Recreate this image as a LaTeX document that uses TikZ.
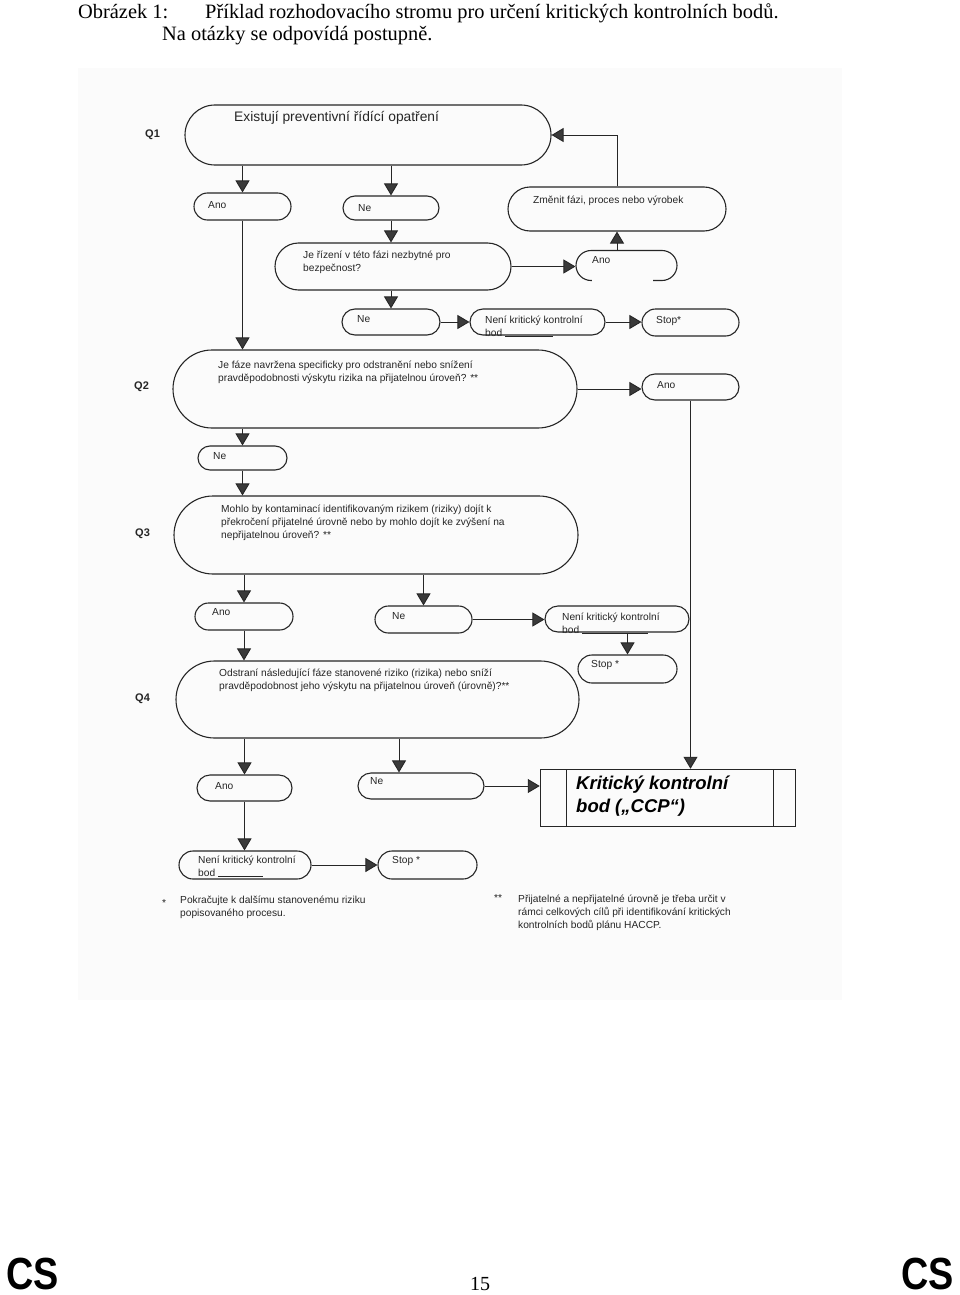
\documentclass[tikz,border=0pt]{standalone}
\usepackage{fontspec}
\setmainfont{Liberation Serif}
\setsansfont{Liberation Sans}
\newfontfamily\csfont[FakeStretch=0.84]{Liberation Sans Bold}
\usetikzlibrary{shapes.misc,arrows.meta}
\definecolor{ink}{HTML}{262626}
\definecolor{arrowc}{HTML}{3A3A3A}
\definecolor{scan}{HTML}{FBFBFB}
\newcommand{\fnt}{\sffamily\fontsize{10.2}{13}\selectfont}
\newcommand{\bodline}[1]{bod \rule[-0.3pt]{#1}{0.8pt}}
\tikzset{
  box/.style={rounded rectangle, draw=ink, line width=1.1pt, inner sep=0pt},
  txt/.style={anchor=north west, inner sep=0pt, align=left, font=\fnt, text=ink},
  lbl/.style={anchor=base west, inner sep=0pt, font=\fnt, text=ink},
  qlbl/.style={anchor=base west, inner sep=0pt, font=\sffamily\bfseries\fontsize{11}{13}\selectfont, text=ink},
  arr/.style={draw=ink, line width=0.9pt, -{Triangle[length=12pt,width=14pt,fill=arrowc]}},
}
\begin{document}
\begin{tikzpicture}[x=1pt,y=-1pt]
\useasboundingbox (0,0) rectangle (960,1295);
\fill[scan] (78,68) rectangle (842,1000);
% caption
\node[anchor=base west, inner sep=0pt, font=\fontsize{20.4}{22}\selectfont] (cap1) at (78,19) {Obrázek 1:};
\node[anchor=base west, inner sep=0pt, font=\fontsize{20.4}{22}\selectfont] (cap2) at (205,19) {Příklad rozhodovacího stromu pro určení kritických kontrolních bodů.};
\node[anchor=base west, inner sep=0pt, font=\fontsize{20.4}{22}\selectfont] (cap3) at (162,41) {Na otázky se odpovídá postupně.};
% footer
\node[anchor=base west, inner sep=0pt, font=\csfont\fontsize{45}{50}\selectfont] (csl) at (6,1289) {CS};
\node[anchor=base east, inner sep=0pt, font=\csfont\fontsize{45}{50}\selectfont] (csr) at (954,1289) {CS};
\node[anchor=base, inner sep=0pt, font=\fontsize{20}{22}\selectfont] (page) at (480,1290) {15};
% Q labels
\node[qlbl] (lq1) at (145,138) {Q1};
\node[qlbl] (lq2) at (134,389) {Q2};
\node[qlbl] (lq3) at (135,536) {Q3};
\node[qlbl] (lq4) at (135,701) {Q4};
% boxes
\node[box, minimum width=366pt, minimum height=60pt] (q1) at (368,135) {};
\node[box, minimum width=97pt, minimum height=27pt] (ano1) at (242.5,206.5) {};
\node[box, minimum width=96pt, minimum height=24pt] (ne1) at (391,208) {};
\node[box, minimum width=218pt, minimum height=44pt] (zm) at (617,209) {};
\node[box, minimum width=236pt, minimum height=47pt] (je) at (393,266.5) {};
\node[box, minimum width=101pt, minimum height=30pt] (ano2) at (626.5,265.5) {};
\draw[scan, line width=3pt] (592,280.5) -- (653,280.5);
\node[box, minimum width=98pt, minimum height=26pt] (ne2) at (391,322) {};
\node[box, minimum width=135pt, minimum height=26pt] (neni1) at (537.5,322) {};
\node[box, minimum width=97pt, minimum height=27pt] (stop1) at (690.5,322.5) {};
\node[box, minimum width=404pt, minimum height=78pt] (q2) at (375,389) {};
\node[box, minimum width=97pt, minimum height=26pt] (ano3) at (690.5,387) {};
\node[box, minimum width=89pt, minimum height=24pt] (ne4) at (242.5,458) {};
\node[box, minimum width=404pt, minimum height=78pt] (q3) at (376,535) {};
\node[box, minimum width=98pt, minimum height=27pt] (ano5) at (244,616.5) {};
\node[box, minimum width=97pt, minimum height=27pt] (ne5) at (423.5,619.5) {};
\node[box, minimum width=144pt, minimum height=26pt] (neni2) at (617,619) {};
\node[box, minimum width=99pt, minimum height=28pt] (stop2) at (627.5,669) {};
\node[box, minimum width=403pt, minimum height=77pt] (q4) at (377.5,699.5) {};
\node[box, minimum width=95pt, minimum height=26pt] (ano6) at (244.5,788) {};
\node[box, minimum width=126pt, minimum height=26pt] (ne6) at (421,786) {};
\node[draw=ink, line width=1.5pt, rectangle, minimum width=255pt, minimum height=57pt, inner sep=0pt] (ccp) at (668,798) {};
\draw[ink, line width=1pt] (566,769.5) -- (566,826.5) (773,769.5) -- (773,826.5);
\node[box, minimum width=132pt, minimum height=28pt] (neni3) at (245,865) {};
\node[box, minimum width=99pt, minimum height=28pt] (stop3) at (427.5,865) {};
% texts
\node[anchor=base west, inner sep=0pt, font=\sffamily\fontsize{13.8}{15}\selectfont, text=ink] (tq1) at (234,122) {Existují preventivní řídící opatření};
\node[lbl] (tano1) at (208,208.7) {Ano};
\node[lbl] (tne1) at (358,211.7) {Ne};
\node[lbl] (tzm) at (533,203.7) {Změnit fázi, proces nebo výrobek};
\node[txt] (tje) at (303,249.6) {\strut Je řízení v této fázi nezbytné pro\\bezpečnost?};
\node[lbl] (tano2) at (592,263.7) {Ano};
\node[lbl] (tne2) at (357,322.7) {Ne};
\node[txt] (tneni1) at (485,314.6) {\strut Není kritický kontrolní\\\bodline{48pt}};
\node[lbl] (tstop1) at (656,323.7) {Stop*};
\node[txt] (tq2) at (218,359.6) {\strut Je fáze navržena specificky pro odstranění nebo snížení\\pravděpodobnosti výskytu rizika na přijatelnou úroveň? **};
\node[lbl] (tano3) at (657,388.7) {Ano};
\node[lbl] (tne4) at (213,459.7) {Ne};
\node[txt] (tq3) at (221,503.6) {\strut Mohlo by kontaminací identifikovaným rizikem (riziky) dojít k\\překročení přijatelné úrovně nebo by mohlo dojít ke zvýšení na\\nepřijatelnou úroveň? **};
\node[lbl] (tano5) at (212,615.7) {Ano};
\node[lbl] (tne5) at (392,619.7) {Ne};
\node[txt] (tneni2) at (562,611.6) {\strut Není kritický kontrolní\\\bodline{66pt}};
\node[lbl] (tstop2) at (591,667.7) {Stop *};
\node[txt] (tq4) at (219,667.6) {\strut Odstraní následující fáze stanovené riziko (rizika) nebo sníží\\pravděpodobnost jeho výskytu na přijatelnou úroveň (úrovně)?**};
\node[lbl] (tano6) at (215,789.7) {Ano};
\node[lbl] (tne6) at (370,784.7) {Ne};
\node[anchor=north west, inner sep=0pt, align=left, font=\sffamily\bfseries\itshape\fontsize{18.5}{23}\selectfont, text=black] (tccp) at (576,773) {\strut Kritický kontrolní\\bod („CCP“)};
\node[txt] (tneni3) at (198,854.6) {\strut Není kritický kontrolní\\\bodline{45pt}};
\node[lbl] (tstop3) at (392,863.7) {Stop *};
\node[lbl] (star1) at (162,906) {*};
\node[txt] (fn1) at (180,894.6) {\strut Pokračujte k dalšímu stanovenému riziku\\popisovaného procesu.};
\node[lbl] (star2) at (494,901) {**};
\node[txt] (fn2) at (518,893.6) {\strut Přijatelné a nepřijatelné úrovně je třeba určit v\\rámci celkových cílů při identifikování kritických\\kontrolních bodů plánu HACCP.};
% connectors
\draw[arr] (ano1.north |- q1.south) -- (ano1.north);
\draw[arr] (ne1.north |- q1.south) -- (ne1.north);
\draw[arr] (ne1.south) -- (ne1.south |- je.north);
\draw[arr] (je.east) -- (je.east -| ano2.west);
\draw[arr] (zm.south |- ano2.north) -- (zm.south);
\draw[arr] (zm.north) |- (q1.east);
\draw[arr] (ne2.north |- je.south) -- (ne2.north);
\draw[arr] (ne2.east) -- (ne2.east -| neni1.west);
\draw[arr] (neni1.east) -- (neni1.east -| stop1.west);
\draw[arr] (ano1.south) -- (ano1.south |- q2.north);
\draw[arr] (q2.east) -- (q2.east -| ano3.west);
\draw[arr] (ano3.south) -- (ano3.south |- ccp.north);
\draw[arr] (ne4.north |- q2.south) -- (ne4.north);
\draw[arr] (ne4.south) -- (ne4.south |- q3.north);
\draw[arr] (ano5.north |- q3.south) -- (ano5.north);
\draw[arr] (ne5.north |- q3.south) -- (ne5.north);
\draw[arr] (ne5.east) -- (ne5.east -| neni2.west);
\draw[arr] (stop2.north |- neni2.south) -- (stop2.north);
\draw[arr] (ano5.south) -- (ano5.south |- q4.north);
\coordinate (ne6in) at ([xshift=-22pt]ne6.north);
\draw[arr] (ano6.north |- q4.south) -- (ano6.north);
\draw[arr] (ne6in |- q4.south) -- (ne6in);
\draw[arr] (ne6.east) -- (ne6.east -| ccp.west);
\draw[arr] (ano6.south) -- (ano6.south |- neni3.north);
\draw[arr] (neni3.east) -- (neni3.east -| stop3.west);
\end{tikzpicture}
\end{document}
